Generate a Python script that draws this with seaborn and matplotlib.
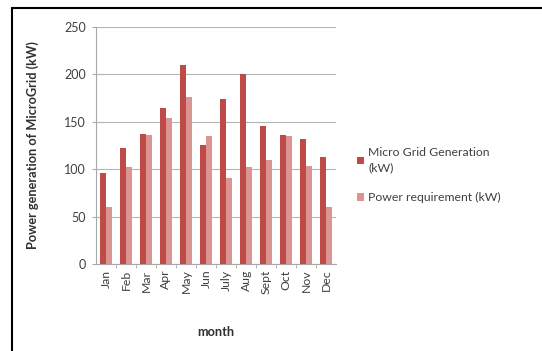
import pandas as pd
import matplotlib.pyplot as plt
import seaborn as sns
from matplotlib.lines import Line2D

months = ['Jan', 'Feb', 'Mar', 'Apr', 'May', 'Jun', 'July', 'Aug', 'Sept', 'Oct', 'Nov', 'Dec']
generation = [96, 122, 137, 165, 210, 126, 174, 200, 146, 136, 132, 113]
requirement = [60, 102, 136, 154, 176, 135, 91, 102, 110, 135, 103, 60]
series_names = ['Micro Grid Generation\n(kW)', 'Power requirement (kW)']

df = pd.DataFrame({
    'month': months * 2,
    'value': generation + requirement,
    'series': [series_names[0]] * 12 + [series_names[1]] * 12,
})

sns.set_style('white')
plt.rcParams['font.family'] = ['Lato', 'DejaVu Sans']

fig = plt.figure(figsize=(5.42, 3.51), dpi=100)
ax = fig.add_axes([0.177, 0.248, 0.443, 0.675])

sns.barplot(data=df, x='month', y='value', hue='series', order=months,
            palette=['#BE4B48', '#DC9592'], width=0.64, saturation=1,
            linewidth=0, ax=ax, zorder=3)

ax.set_ylim(0, 250)
ax.set_yticks([0, 50, 100, 150, 200, 250])
ax.set_xlim(-0.5, 11.5)
ax.yaxis.grid(True, color='#b4b4b4', linewidth=0.8, zorder=0)
for side in ['top', 'right']:
    ax.spines[side].set_visible(False)
for side in ['left', 'bottom']:
    ax.spines[side].set_color('#a8a8a8')
    ax.spines[side].set_linewidth(0.8)

ax.tick_params(axis='y', which='major', length=3, color='#a8a8a8', labelsize=9,
               labelcolor='#404040', left=True, pad=4)
ax.tick_params(axis='x', which='major', length=0, labelsize=8.8,
               labelcolor='#404040', rotation=90, pad=4)
ax.set_xticks([i + 0.5 for i in range(11)], minor=True)
ax.tick_params(axis='x', which='minor', length=3, color='#a8a8a8', bottom=True)

ax.set_xlabel('month', fontsize=9.2, fontweight='bold', color='#303030', labelpad=23)
ax.set_ylabel('Power generation of MicroGrid (kW)', fontsize=9.2, fontweight='bold',
              color='#303030', labelpad=18)

handles, labels = ax.get_legend_handles_labels()
leg = ax.legend(handles, labels, loc='center left', bbox_to_anchor=(1.04, 0.375),
                frameon=False, fontsize=8.8, labelcolor='#404040', handlelength=0.6,
                handleheight=0.6, handletextpad=0.35, labelspacing=1.5)
for t in leg.get_texts():
    t.set_linespacing(1.5)

# black frame on the top and left edge of the image
fig.add_artist(Line2D([0.022, 1.0], [0.977, 0.977], transform=fig.transFigure,
                      color='black', linewidth=1.5))
fig.add_artist(Line2D([0.022, 0.022], [0.0, 0.977], transform=fig.transFigure,
                      color='black', linewidth=1.5))

fig.savefig('out.png', dpi=100)
